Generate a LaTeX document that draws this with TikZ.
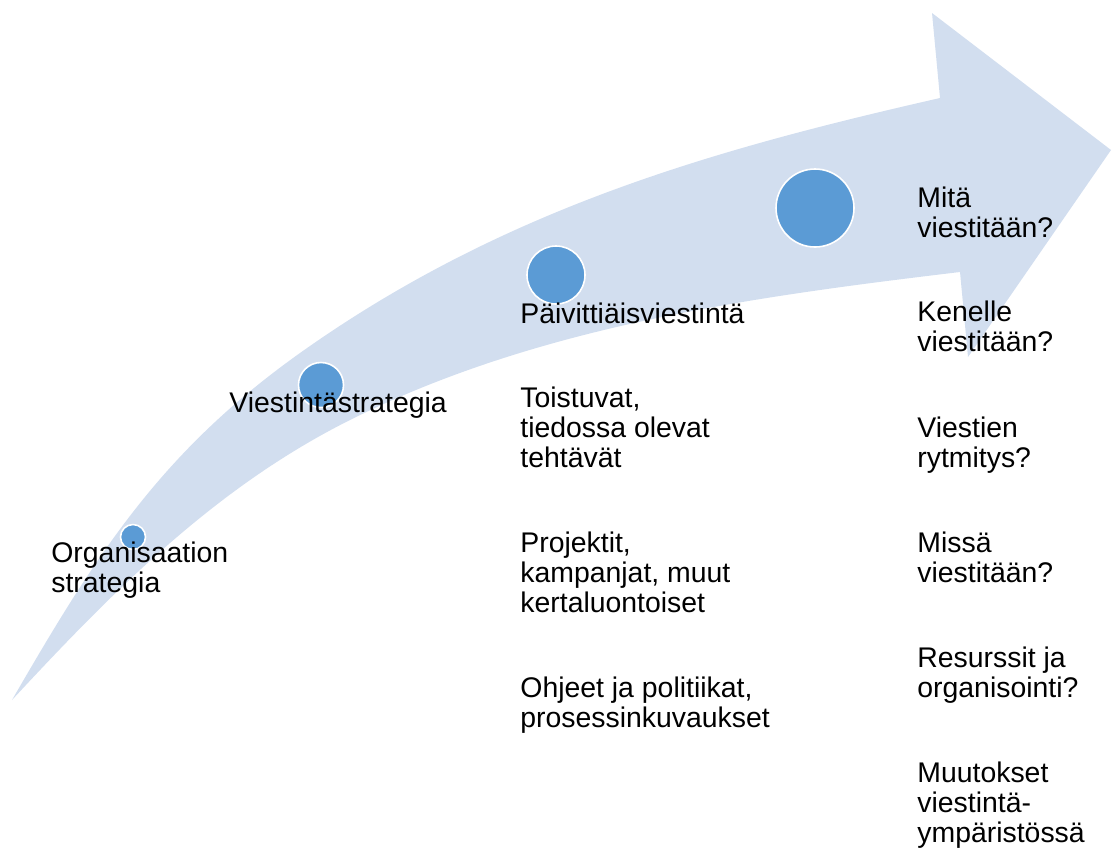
\documentclass[tikz,border=0pt]{standalone}
\usepackage{fontspec}
\setmainfont{Liberation Sans}
\definecolor{arrowfill}{RGB}{210,222,239}
\definecolor{dotfill}{RGB}{91,155,213}
\tikzset{
  stepdot/.style={circle, inner sep=0pt, fill=dotfill, draw=white, line width=0.8pt},
  steptext/.style={anchor=base west, align=left, inner sep=0pt,
    font=\fontsize{14.2}{15}\selectfont},
}
\begin{document}
\begin{tikzpicture}[x=0.5pt, y=-0.5pt]
\useasboundingbox (0,0) rectangle (1112,848);

% Drawing the curved arrow
\fill [arrowfill] (12,700)
  .. controls (97,553) and (161,452) .. (300,353)
  .. controls (504,208) and (716,149) .. (940,98)
  -- (932,13) -- (1111,150) -- (968,357) -- (960,272)
  .. controls (751,297) and (538,326) .. (350,420)
  .. controls (216,487) and (114,590) .. (12,700)
  -- cycle;

% Marking the steps by circles
\node [stepdot, minimum size=12.5pt] (d1) at (133,537) {};
\node [stepdot, minimum size=22.5pt] (d2) at (321,385) {};
\node [stepdot, minimum size=29pt] (d3) at (556,275) {};
\node [stepdot, minimum size=39pt] (d4) at (815,208) {};

% Step labels (anchor at the baseline of the last line)
\node [steptext] (orgstrat) at (51,592) {Organisaation\\strategia};
\node [steptext] (viestrat) at (229,412) {Viestintästrategia};
\node [steptext] (paivit) at (520,323) {Päivittiäisviestintä};

% Daily communication items
\node [steptext] (toistuvat) at (520,467) {Toistuvat,\\tiedossa olevat\\tehtävät};
\node [steptext] (projektit) at (520,612) {Projektit,\\kampanjat, muut\\kertaluontoiset};
\node [steptext] (ohjeet) at (520,727) {Ohjeet ja politiikat,\\prosessinkuvaukset};

% Questions
\node [steptext] (mita) at (917,237) {Mitä\\viestitään?};
\node [steptext] (kenelle) at (917,351) {Kenelle\\viestitään?};
\node [steptext] (rytmi) at (917,467) {Viestien\\rytmitys?};
\node [steptext] (missa) at (917,582) {Missä\\viestitään?};
\node [steptext] (resurssit) at (917,697) {Resurssit ja\\organisointi?};
\node [steptext] (muutokset) at (917,842) {Muutokset\\viestintä-\\ympäristössä};
\end{tikzpicture}
\end{document}
